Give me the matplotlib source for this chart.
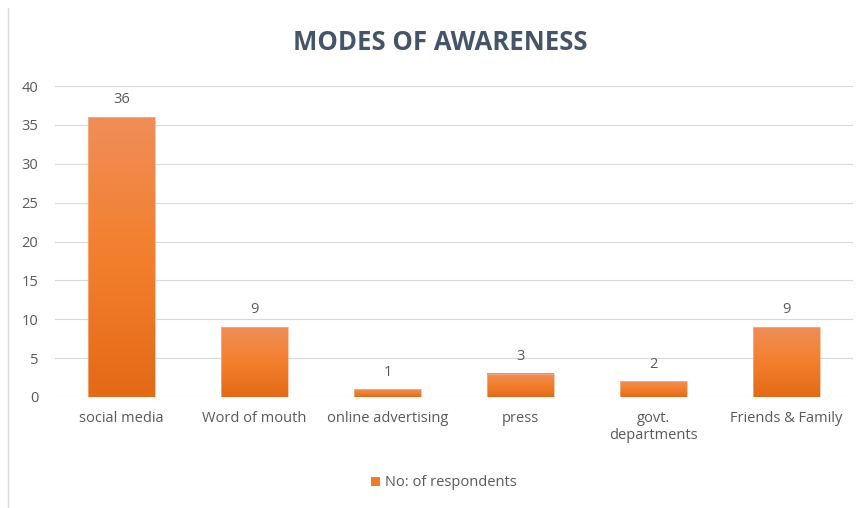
import matplotlib.pyplot as plt
import numpy as np
from matplotlib.colors import LinearSegmentedColormap
from matplotlib.lines import Line2D
from matplotlib.patches import Patch

plt.rcParams['font.family'] = ['Open Sans', 'DejaVu Sans']

categories = ['social media', 'Word of mouth', 'online advertising', 'press',
              'govt.\ndepartments', 'Friends & Family']
respondents = [36, 9, 1, 3, 2, 9]
series_name = 'No: of respondents'

text_col = '#595959'
grad = LinearSegmentedColormap.from_list('orange_grad', ['#E36A17', '#F37F2C', '#F08E58'])

fig = plt.figure(figsize=(8.61, 5.08), dpi=100)
ax = fig.add_axes([55 / 861, 1 - 397 / 508, 798 / 861, 311 / 508])

x = np.arange(len(categories))
bars = ax.bar(x, respondents, width=0.5, color='none', edgecolor='#F7B58C',
              linewidth=0.5, zorder=3)

# vertical gradient in each bar, lighter at the top
g = np.linspace(0, 1, 256).reshape(-1, 1)
for b in bars:
    x0, w, h = b.get_x(), b.get_width(), b.get_height()
    ax.imshow(g, extent=[x0, x0 + w, 0, h], origin='lower', aspect='auto',
              cmap=grad, zorder=2)
    ax.annotate(f'{h:g}', (x0 + w / 2, h), xytext=(0, 7), textcoords='offset points',
                ha='center', va='bottom', fontsize=10.5, color=text_col)

ax.set_xlim(-0.5, len(categories) - 0.5)
ax.set_ylim(0, 40)
ax.set_yticks(range(0, 41, 5))
ax.set_xticks(x)
ax.set_xticklabels(categories)
ax.yaxis.grid(True, color='#D9D9D9', linewidth=0.8, zorder=0)
ax.set_axisbelow(True)
for s in ax.spines.values():
    s.set_visible(False)
ax.tick_params(axis='both', length=0, labelsize=10.5, labelcolor=text_col)
ax.tick_params(axis='x', pad=10)
ax.tick_params(axis='y', pad=12)

fig.text(440 / 861, 1 - 42 / 508, 'MODES OF AWARENESS', ha='center', va='center',
         fontsize=18.5, fontweight='bold', color='#44546A')

fig.legend(handles=[Patch(facecolor='#F07B28', edgecolor='none', label=series_name)],
           loc='center', bbox_to_anchor=(444 / 861, 1 - 483 / 508), frameon=False,
           fontsize=10.5, labelcolor=text_col, handlelength=0.6, handleheight=0.6,
           handletextpad=0.4)

fig.add_artist(Line2D([8 / 861, 8 / 861], [0, 1 - 8 / 508], transform=fig.transFigure,
                      color='#D9D9D9', linewidth=1))

fig.savefig('out.png', dpi=100)
